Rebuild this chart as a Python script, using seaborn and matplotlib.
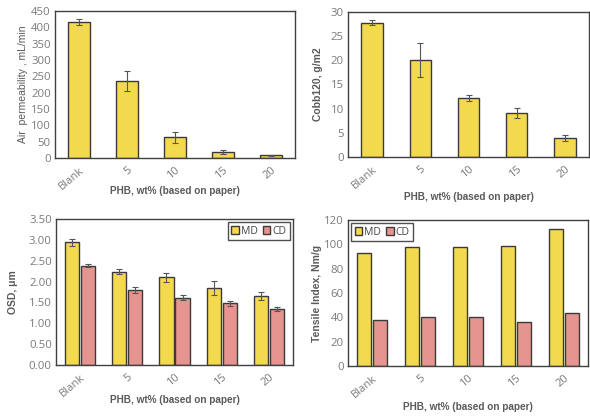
import matplotlib
matplotlib.use("Agg")
import matplotlib.pyplot as plt
import seaborn as sns
import pandas as pd
import numpy as np

sns.set_theme(style="white")
plt.rcParams['font.family'] = ['Open Sans', 'DejaVu Sans']

categories = ["Blank", "5", "10", "15", "20"]

air_perm = [416, 236, 63, 19, 8]
air_perm_err = [10, 30, 17, 7, 2]

cobb = [27.8, 20.0, 12.2, 9.05, 3.9]
cobb_err = [0.5, 3.5, 0.6, 1.0, 0.55]

osd_md = [2.94, 2.24, 2.10, 1.84, 1.66]
osd_md_err = [0.09, 0.06, 0.10, 0.17, 0.09]
osd_cd = [2.38, 1.80, 1.61, 1.48, 1.35]
osd_cd_err = [0.04, 0.07, 0.06, 0.06, 0.05]

tens_md = [93.2, 98.1, 98.1, 98.6, 112.6]
tens_cd = [38.1, 40.0, 40.5, 35.9, 43.3]

series = ["MD", "CD"]

YELLOW = "#F3D94E"
PINK = "#E6948F"
EDGE = "#3a3a3a"
TICKC = "#7a7a7a"
LABC = "#5a5a5a"

W, H = 590, 419
fig = plt.figure(figsize=(W / 100, H / 100), dpi=100)


def add_ax(l, r, t, b):
    return fig.add_axes([l / W, 1 - b / H, (r - l) / W, (b - t) / H])


def style(ax, ylim, yticks, yfmt, ylabel, xl_y, yl_x, ylabel_bold=True):
    ax.set_ylim(*ylim)
    ax.set_yticks(yticks)
    ax.set_yticklabels([yfmt.format(v) for v in yticks], fontsize=8.2, color=TICKC)
    ax.set_xticks(range(len(categories)))
    ax.set_xticklabels(categories, rotation=40, ha="right", rotation_mode="anchor",
                       fontsize=8.0, color=TICKC)
    ax.tick_params(axis="both", length=0, pad=3)
    ax.tick_params(axis="x", pad=5)
    for s in ax.spines.values():
        s.set_color("#404040")
        s.set_linewidth(1.0)
    ax.set_xlabel("PHB, wt% (based on paper)", fontsize=7.2, color=LABC,
                  fontweight="bold", family=["Liberation Sans", "DejaVu Sans"])
    ax.set_ylabel(ylabel, fontsize=7.5, color=LABC,
                  fontweight="bold" if ylabel_bold else "normal",
                  family=["Liberation Sans", "DejaVu Sans"])
    ax.xaxis.set_label_coords(0.5, xl_y)
    ax.xaxis.label.set_va("center")
    ax.yaxis.set_label_coords(yl_x, 0.5)
    ax.yaxis.label.set_va("center")
    ax.set_xlim(-0.5, len(categories) - 0.5)


# Panel 1
ax1 = add_ax(55, 295, 11, 158)
df1 = pd.DataFrame({"cat": categories, "val": air_perm})
sns.barplot(data=df1, x="cat", y="val", ax=ax1, color=YELLOW, edgecolor=EDGE,
            linewidth=1.0, width=0.44, errorbar=None, saturation=1)
ax1.errorbar(range(len(categories)), air_perm, yerr=air_perm_err, fmt="none",
             ecolor="#555555", elinewidth=0.8, capsize=2, capthick=0.8)
style(ax1, (0, 450), list(range(0, 451, 50)), "{:.0f}", "Air  permeability , mL/min",
      -0.2245, -0.133, ylabel_bold=False)

# Panel 2
ax2 = add_ax(348, 589, 12, 157)
df2 = pd.DataFrame({"cat": categories, "val": cobb})
sns.barplot(data=df2, x="cat", y="val", ax=ax2, color=YELLOW, edgecolor=EDGE,
            linewidth=1.0, width=0.44, errorbar=None, saturation=1)
ax2.errorbar(range(len(categories)), cobb, yerr=cobb_err, fmt="none",
             ecolor="#555555", elinewidth=0.8, capsize=2, capthick=0.8)
style(ax2, (0, 30), list(range(0, 31, 5)), "{:.0f}", "Cobb120, g/m2", -0.276, -0.124)


def grouped(ax, md, cd):
    df = pd.DataFrame({"cat": categories * 2,
                       "series": ["MD"] * 5 + ["CD"] * 5,
                       "val": list(md) + list(cd)})
    sns.barplot(data=df, x="cat", y="val", hue="series", hue_order=series, ax=ax,
                palette=[YELLOW, PINK], edgecolor=EDGE, linewidth=1.0,
                width=0.68, gap=0.12, errorbar=None, saturation=1)
    return ax


def legend(ax, loc, anchor):
    leg = ax.legend(loc=loc, bbox_to_anchor=anchor, ncol=2, frameon=True, fontsize=7.5,
                    handlelength=0.7, handleheight=0.7, handletextpad=0.2,
                    columnspacing=0.5, borderpad=0.35, fancybox=False, borderaxespad=0.3)
    leg.get_frame().set_edgecolor("#222222")
    leg.get_frame().set_linewidth(1.0)
    for t in leg.get_texts():
        t.set_color("#444444")


# Panel 3
ax3 = add_ax(56, 293, 219, 365)
grouped(ax3, osd_md, osd_cd)
bars = ax3.patches[:10]
xs_md = [p.get_x() + p.get_width() / 2 for p in bars[:5]]
xs_cd = [p.get_x() + p.get_width() / 2 for p in bars[5:10]]
ax3.errorbar(xs_md, osd_md, yerr=osd_md_err, fmt="none", ecolor="#555555",
             elinewidth=0.8, capsize=2, capthick=0.8)
ax3.errorbar(xs_cd, osd_cd, yerr=osd_cd_err, fmt="none", ecolor="#555555",
             elinewidth=0.8, capsize=2, capthick=0.8)
style(ax3, (0, 3.5), [0, 0.5, 1.0, 1.5, 2.0, 2.5, 3.0, 3.5], "{:.2f}", "OSD, μm",
      -0.24, -0.181)
legend(ax3, "upper right", (1.0, 1.0))

# Panel 4
ax4 = add_ax(348, 588, 220, 366)
grouped(ax4, tens_md, tens_cd)
style(ax4, (0, 120), list(range(0, 121, 20)), "{:.0f}", "Tensile Index, Nm/g",
      -0.281, -0.129)
legend(ax4, "upper left", (0.0, 1.0))

fig.savefig("out.png", dpi=100, facecolor="white")
